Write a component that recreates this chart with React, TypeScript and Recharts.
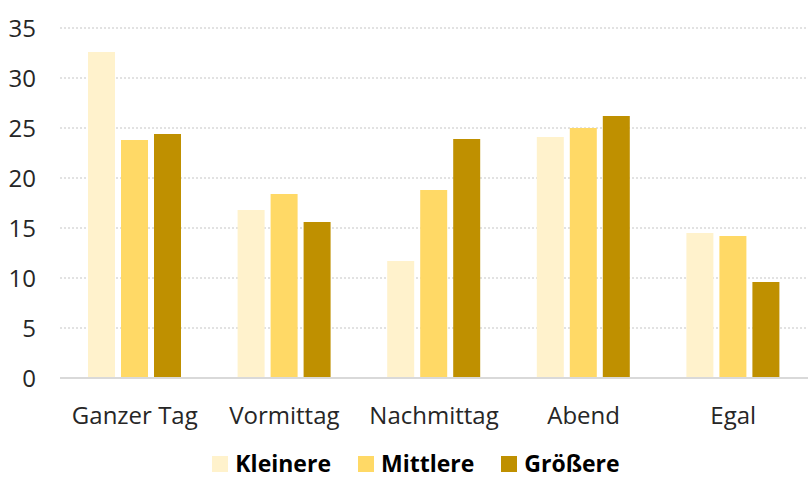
import { BarChart, Bar, XAxis, YAxis, CartesianGrid, Legend } from 'recharts'

const categories = ['Ganzer Tag', 'Vormittag', 'Nachmittag', 'Abend', 'Egal']
const kleinere = [32.6, 16.8, 11.7, 24.1, 14.5]
const mittlere = [23.8, 18.4, 18.8, 25.0, 14.2]
const groessere = [24.4, 15.6, 23.9, 26.2, 9.6]
const yTicks = [0, 5, 10, 15, 20, 25, 30, 35]

const series = [
  { key: 'kleinere', name: 'Kleinere', color: '#FFF2CC' },
  { key: 'mittlere', name: 'Mittlere', color: '#FFD966' },
  { key: 'groessere', name: 'Größere', color: '#BF9000' },
]

const data = categories.map((c, i) => ({
  category: c,
  kleinere: kleinere[i],
  mittlere: mittlere[i],
  groessere: groessere[i],
}))

const FONT = '"Open Sans", Lato, sans-serif'

function LegendContent() {
  return (
    <div
      style={{
        display: 'flex',
        justifyContent: 'center',
        alignItems: 'baseline',
        height: 32,
        fontFamily: FONT,
        fontWeight: 700,
        fontSize: 23,
        color: '#000',
        paddingLeft: 24,
      }}
    >
      {series.map((s, i) => (
        <div
          key={s.key}
          style={{ display: 'flex', alignItems: 'baseline', marginRight: i < series.length - 1 ? 27 : 0 }}
        >
          <span style={{ display: 'inline-block', width: 16, height: 16, background: s.color, marginRight: 7 }} />
          <span>{s.name}</span>
        </div>
      ))}
    </div>
  )
}

export default function App() {
  return (
    <div style={{ position: 'absolute', left: 0, top: 0, background: '#fff' }}>
      <BarChart
        width={808}
        height={479}
        data={data}
        barSize={27}
        barGap={6}
        margin={{ top: 28, right: 0, bottom: 0, left: 0 }}
      >
        <CartesianGrid vertical={false} stroke="#d9d9d9" strokeDasharray="2 2" strokeWidth={1.5} />
        <XAxis
          dataKey="category"
          axisLine={{ stroke: '#d9d9d9', strokeWidth: 2 }}
          tickLine={false}
          tickSize={0}
          tickMargin={29}
          height={69}
          interval={0}
          tick={{ fill: '#262626', fontSize: 24, fontFamily: FONT }}
        />
        <YAxis
          domain={[0, 35]}
          ticks={yTicks}
          width={60}
          axisLine={false}
          tickLine={false}
          tickSize={0}
          tickMargin={24}
          tick={{ fill: '#262626', fontSize: 24, fontFamily: FONT }}
        />
        <Legend verticalAlign="bottom" content={<LegendContent />} />
        {series.map((s) => (
          <Bar key={s.key} dataKey={s.key} name={s.name} fill={s.color} isAnimationActive={false} />
        ))}
      </BarChart>
    </div>
  )
}
